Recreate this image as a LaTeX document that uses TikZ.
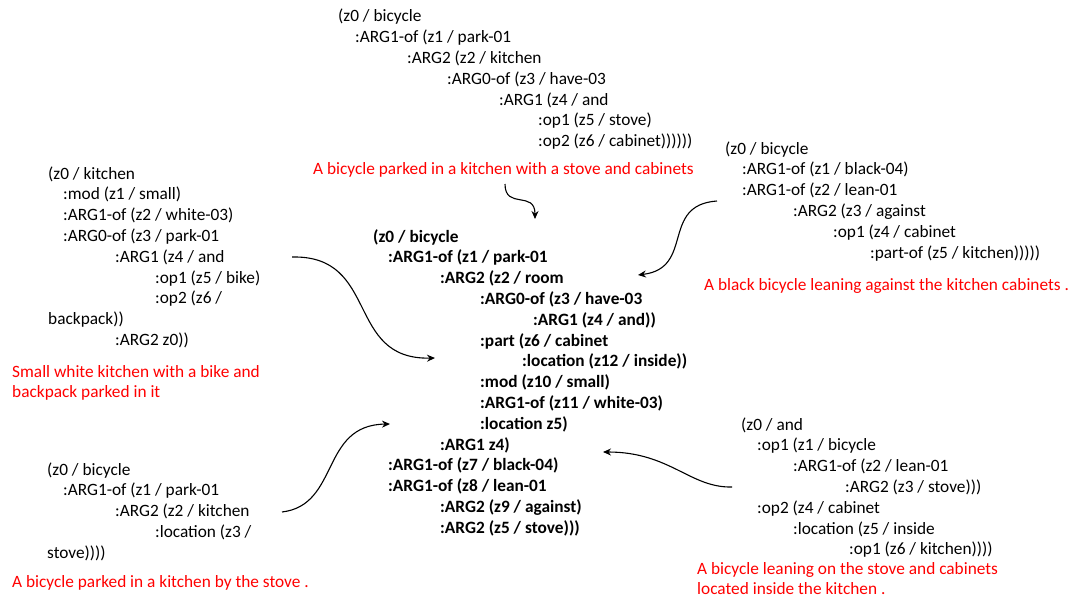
\documentclass[tikz,border=0pt]{standalone}
\usepackage{fontspec}
\setmainfont{Carlito}
\usetikzlibrary{arrows.meta}
\begin{document}
\begin{tikzpicture}[x=1pt,y=-1pt,
  amr/.style={anchor=base west,align=left,inner sep=0pt,font=\fontsize{17.3}{20.8}\selectfont},
  amrb/.style={amr,font=\fontsize{17.3}{20.8}\selectfont\bfseries},
  redcap/.style={amr,text=red},
  link/.style={line width=1.1pt,-{Stealth[length=8pt,width=7pt]}}]
\useasboundingbox[fill=white] (0,0) rectangle (1073,599);
\newcommand\ind[1]{\hspace*{#1pt}}
% (node positions are the baselines of each block's last line)
% top
\node[amr] (top) at (338,146.8) {(z0 / bicycle\\
\ind{17}:ARG1-of (z1 / park-01\\
\ind{69}:ARG2 (z2 / kitchen\\
\ind{109}:ARG0-of (z3 / have-03\\
\ind{161}:ARG1 (z4 / and\\
\ind{200}:op1 (z5 / stove)\\
\ind{200}:op2 (z6 / cabinet))))))};
\node[redcap] (topcap) at (313,174) {A bicycle parked in a kitchen with a stove and cabinets};
% left
\node[amr] (left) at (48,345.4) {(z0 / kitchen\\
\ind{15}:mod (z1 / small)\\
\ind{15}:ARG1-of (z2 / white-03)\\
\ind{15}:ARG0-of (z3 / park-01\\
\ind{67}:ARG1 (z4 / and\\
\ind{107}:op1 (z5 / bike)\\
\ind{107}:op2 (z6 /\\
backpack))\\
\ind{67}:ARG2 z0))};
\node[redcap] (leftcap) at (12,397.8) {Small white kitchen with a bike and\\backpack parked in it};
% center
\node[amrb] (center) at (373,533.2) {(z0 / bicycle\\
\ind{15}:ARG1-of (z1 / park-01\\
\ind{67}:ARG2 (z2 / room\\
\ind{107}:ARG0-of (z3 / have-03\\
\ind{160}:ARG1 (z4 / and))\\
\ind{107}:part (z6 / cabinet\\
\ind{149}:location (z12 / inside))\\
\ind{107}:mod (z10 / small)\\
\ind{107}:ARG1-of (z11 / white-03)\\
\ind{107}:location z5)\\
\ind{67}:ARG1 z4)\\
\ind{15}:ARG1-of (z7 / black-04)\\
\ind{15}:ARG1-of (z8 / lean-01\\
\ind{67}:ARG2 (z9 / against)\\
\ind{67}:ARG2 (z5 / stove)))};
% right top
\node[amr] (rtop) at (725,258) {(z0 / bicycle\\
\ind{17}:ARG1-of (z1 / black-04)\\
\ind{17}:ARG1-of (z2 / lean-01\\
\ind{68}:ARG2 (z3 / against\\
\ind{108}:op1 (z4 / cabinet\\
\ind{145}:part-of (z5 / kitchen)))))};
\node[redcap] (rtopcap) at (704,290) {A black bicycle leaning against the kitchen cabinets .};
% bottom left
\node[amr] (bl) at (47,558.2) {(z0 / bicycle\\
\ind{16}:ARG1-of (z1 / park-01\\
\ind{68}:ARG2 (z2 / kitchen\\
\ind{108}:location (z3 /\\
stove))))};
\node[redcap] (blcap) at (12,587) {A bicycle parked in a kitchen by the stove .};
% bottom right
\node[amr] (br) at (741,554.8) {(z0 / and\\
\ind{16}:op1 (z1 / bicycle\\
\ind{52}:ARG1-of (z2 / lean-01\\
\ind{104}:ARG2 (z3 / stove)))\\
\ind{16}:op2 (z4 / cabinet\\
\ind{52}:location (z5 / inside\\
\ind{108}:op1 (z6 / kitchen))))};
\node[redcap] (brcap) at (697,594.8) {A bicycle leaning on the stove and cabinets\\located inside the kitchen .};
% connector ends
\coordinate (s1) at (505,184); \coordinate (e1) at (535,219);
\coordinate (s2) at (292,257); \coordinate (e2) at (435,358);
\coordinate (s3) at (717,201); \coordinate (e3) at (638,275);
\coordinate (s4) at (282,512); \coordinate (e4) at (390,424);
\coordinate (s5) at (732,487); \coordinate (e5) at (603,452);
\draw[link] (s1) .. controls (505,210) and (535,190) .. (e1);
\draw[link] (s2) .. controls (380,255) and (345,360) .. (e2);
\draw[link] (s3) .. controls (660,205) and (695,268) .. (e3);
\draw[link] (s4) .. controls (340,505) and (320,425) .. (e4);
\draw[link] (s5) .. controls (690,488) and (670,452) .. (e5);
\end{tikzpicture}
\end{document}
